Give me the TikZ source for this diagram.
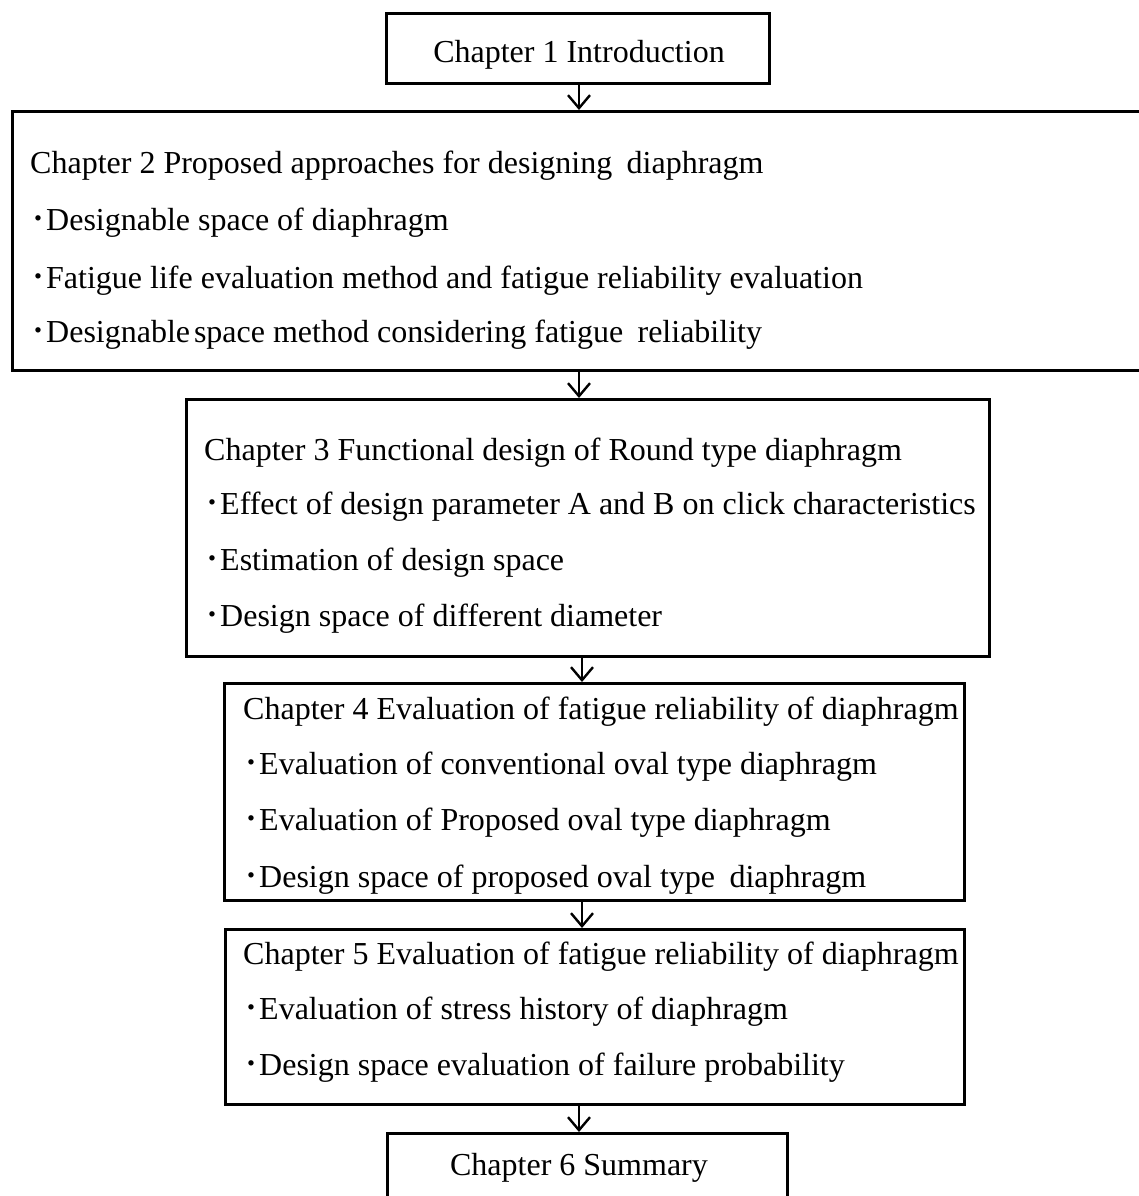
\documentclass[tikz,border=0pt]{standalone}
\usepackage{fontspec}
\setmainfont{Liberation Serif}
\newfontfamily\cjk{Noto Sans CJK JP}
\usetikzlibrary{arrows.meta}
\newcommand\bul{{\cjk ･}}
\tikzset{
  box/.style={draw, line width=3pt, rectangle, inner sep=0pt},
  txt/.style={anchor=base west, inner sep=0pt, font=\fontsize{32}{36}\selectfont},
  ctxt/.style={anchor=base, inner sep=0pt, font=\fontsize{32}{36}\selectfont},
  arr/.style={line width=2.4pt, -{Straight Barb[length=13pt,width=22pt,line width=2.4pt]}}
}
\begin{document}
\begin{tikzpicture}[x=1pt,y=-1pt]
\useasboundingbox (0,0) rectangle (1139,1196);
\clip (0,0) rectangle (1139,1196);
% boxes
\node[box, anchor=north west, minimum width=383pt, minimum height=70pt] (b1) at (385,12) {};
\node[box, anchor=north west, minimum width=1140pt, minimum height=259pt] (b2) at (11,110) {};
\node[box, anchor=north west, minimum width=803pt, minimum height=257pt] (b3) at (185,398) {};
\node[box, anchor=north west, minimum width=740pt, minimum height=217pt] (b4) at (223,682) {};
\node[box, anchor=north west, minimum width=739pt, minimum height=175pt] (b5) at (224,928) {};
\node[box, anchor=north west, minimum width=400pt, minimum height=90pt] (b6) at (386,1132) {};
% texts
\node[ctxt] (t1) at (579,63) {Chapter 1 Introduction};
\node[txt] (t2a) at (30,173) {Chapter 2 Proposed approaches for designing\hspace{0.45em}diaphragm};
\node[txt] (t2b) at (30,230) {\bul Designable space of diaphragm};
\node[txt] (t2c) at (30,288) {\bul Fatigue life evaluation method and fatigue reliability evaluation};
\node[txt] (t2d) at (30,342) {\bul Designable\hspace{0.12em}space method considering fatigue\hspace{0.45em}reliability};
\node[txt] (t3a) at (204,460) {Chapter 3 Functional design of Round type diaphragm};
\node[txt] (t3b) at (204,514) {\bul Effect of design parameter A and B on click characteristics};
\node[txt] (t3c) at (204,570) {\bul Estimation of design space};
\node[txt] (t3d) at (204,626) {\bul Design space of different diameter};
\node[txt] (t4a) at (243,719) {Chapter 4 Evaluation of fatigue reliability of diaphragm};
\node[txt] (t4b) at (243,774) {\bul Evaluation of conventional oval type diaphragm};
\node[txt] (t4c) at (243,830) {\bul Evaluation of Proposed oval type diaphragm};
\node[txt] (t4d) at (243,887) {\bul Design space of proposed oval type\hspace{0.45em}diaphragm};
\node[txt] (t5a) at (243,964) {Chapter 5 Evaluation of fatigue reliability of diaphragm};
\node[txt] (t5b) at (243,1019) {\bul Evaluation of stress history of diaphragm};
\node[txt] (t5c) at (243,1075) {\bul Design space evaluation of failure probability};
\node[ctxt] (t6) at (579,1175) {Chapter 6 Summary};
% arrows
\coordinate (xa) at (579,0);
\coordinate (xb) at (582,0);
\draw[arr] (b1.south -| xa) -- (b2.north -| xa);
\draw[arr] (b2.south -| xa) -- (b3.north -| xa);
\draw[arr] (b3.south -| xb) -- (b4.north -| xb);
\draw[arr] (b4.south -| xb) -- (b5.north -| xb);
\draw[arr] (b5.south -| xa) -- (b6.north -| xa);
\end{tikzpicture}
\end{document}
